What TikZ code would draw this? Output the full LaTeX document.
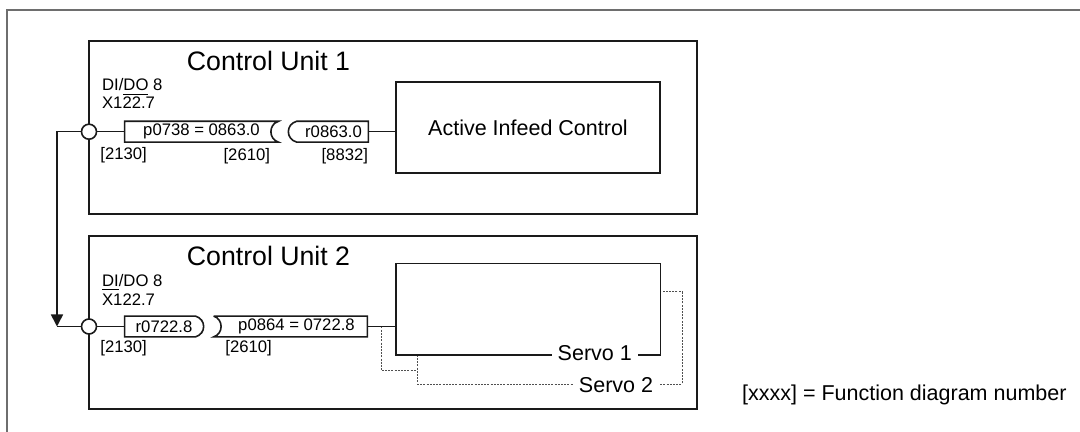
\documentclass[tikz,border=0pt]{standalone}
\usepackage{fontspec}
\setmainfont{Liberation Sans}
\usetikzlibrary{calc,positioning,arrows.meta}
\definecolor{framegray}{HTML}{6E6E6E}
\definecolor{wireblack}{HTML}{1A1A1A}
\definecolor{dotgray}{HTML}{505050}
\tikzset{
  unitbox/.style={rectangle,draw=wireblack,line width=0.85pt,inner sep=0pt,fill=white},
  unittitle/.style={font=\fontsize{13.35}{16}\selectfont,inner sep=0pt,anchor=base},
  blocktext/.style={font=\fontsize{10.75}{13}\selectfont},
  sigtext/.style={font=\fontsize{8.35}{10}\selectfont,inner sep=0pt},
  sigbox/.style={rectangle,inner sep=0pt,minimum height=10pt,font=\fontsize{8.35}{10}\selectfont},
  sigline/.style={draw=wireblack,line width=0.8pt},
  ioport/.style={circle,draw=wireblack,fill=white,line width=0.8pt,minimum size=7.5pt,inner sep=0pt},
  wire/.style={draw=wireblack,line width=0.8pt},
  dotwire/.style={draw=dotgray,line width=0.5pt,dash pattern=on 1pt off 0.6pt},
  feedarrow/.style={-{Triangle[length=6pt,width=6pt]}},
  servolabel/.style={font=\fontsize{10.75}{13}\selectfont,fill=white,inner xsep=3pt,inner ysep=0.5pt,anchor=base},
}
\begin{document}
\begin{tikzpicture}[x=0.5pt,y=-0.5pt]
  \useasboundingbox (0,0) rectangle (1080,432);
  \clip (0,0) rectangle (1080,432);
  \draw[framegray,line width=0.8pt] (7,10) rectangle (1100,450);
  % control units
  \node[unitbox,minimum width=304pt,minimum height=86.5pt] (cu1) at (393,127.5) {};
  \node[unitbox,minimum width=304pt,minimum height=86.5pt] (cu2) at (393,322.5) {};
  \node[unittitle] (cu1title) at (268.5,71) {Control Unit 1};
  \node[unittitle] (cu2title) at (268.5,266) {Control Unit 2};
  % control unit 1
  \node[unitbox,blocktext,minimum width=132pt,minimum height=45.5pt] (aic) at (528,127.5) {Active Infeed Control};
  \node[ioport] (io1) at (89,131.7) {};
  \node[sigtext,anchor=base west] (dido1) at (101.7,91) {DI/\underline{DO} 8};
  \node[sigtext,anchor=base west] (term1) at (101.7,109) {X122.7};
  \node[sigbox,minimum width=76.5pt] (p738) at (201.5,131.7) {p0738 = 0863.0};
  \node[sigbox,minimum width=39.5pt] (r863) at (328.5,131.7) {\hspace{5pt}r0863.0};
  \draw[sigline] (p738.north west) -- (p738.north east)
    .. controls ($(p738.north east)+(-10,3)$) and ($(p738.south east)+(-10,-3)$) .. (p738.south east)
    -- (p738.south west) -- cycle;
  \draw[sigline] ($(r863.north west)+(8,0)$) -- (r863.north east) -- (r863.south east)
    -- ($(r863.south west)+(8,0)$)
    .. controls ($(r863.south west)+(-3,-3)$) and ($(r863.north west)+(-3,3)$) .. cycle;
  \node[sigtext,anchor=base west] (fd2130a) at (100,160) {[2130]};
  \node[sigtext,anchor=base east] (fd2610a) at ($(p738.south east)+(-8,18.3)$) {[2610]};
  \node[sigtext,anchor=base east] (fd8832) at ($(r863.south east)+(0,18.3)$) {[8832]};
  \draw[wire] (io1.east) -- (p738.west);
  \draw[wire] (r863.east) -- (r863.east -| aic.west);
  % control unit 2
  \node[ioport] (io2) at (89,326.5) {};
  \node[sigtext,anchor=base west] (dido2) at (101.7,287) {\underline{DI}/DO 8};
  \node[sigtext,anchor=base west] (term2) at (101.7,306) {X122.7};
  \node[sigbox,minimum width=39pt] (r722) at (164,326.5) {r0722.8\hspace{5pt}};
  \node[sigbox,minimum width=76.5pt] (p864) at (290.5,326.5) {\hspace{6pt}p0864 = 0722.8};
  \draw[sigline] (r722.north west) -- ($(r722.north east)+(-8,0)$)
    .. controls ($(r722.north east)+(3,3)$) and ($(r722.south east)+(3,-3)$) .. ($(r722.south east)+(-8,0)$)
    -- (r722.south west) -- cycle;
  \draw[sigline] (p864.north west) -- (p864.north east) -- (p864.south east) -- (p864.south west)
    .. controls ($(p864.south west)+(10,-3)$) and ($(p864.north west)+(10,3)$) .. (p864.north west);
  \node[sigtext,anchor=base west] (fd2130b) at (100,352.5) {[2130]};
  \node[sigtext,anchor=base west] (fd2610b) at (225,352.5) {[2610]};
  % drive objects
  \node[unitbox,dotwire,fill=none,minimum width=132.5pt,minimum height=46pt] (servo2) at (549.5,338) {};
  \coordinate (tap) at (381,326.5);
  \coordinate (s2in) at ($(servo2.south west)+(0,-14)$);
  \draw[dotwire] (tap) |- (s2in);
  \node[unitbox,minimum width=132.3pt,minimum height=45.8pt] (servo1) at (528.3,309.2) {};
  \node[servolabel] (s1lab) at ($(servo1.south east)+(-66.7,5)$) {Servo 1};
  \node[servolabel] (s2lab) at ($(servo2.south east)+(-66.5,7.7)$) {Servo 2};
  \draw[wire] (io2.east) -- (r722.west);
  \draw[wire] (p864.east) -- (p864.east -| servo1.west);
  % DO 8 -> DI 8
  \coordinate (turn) at (57,326.5);
  \draw[wire,feedarrow] (io1.west) -| (turn);
  \draw[wire] (turn) -- (io2.west);
  \node[blocktext,anchor=base west,inner sep=0pt] (legend) at (741.7,400) {[xxxx] = Function diagram number};
\end{tikzpicture}
\end{document}
